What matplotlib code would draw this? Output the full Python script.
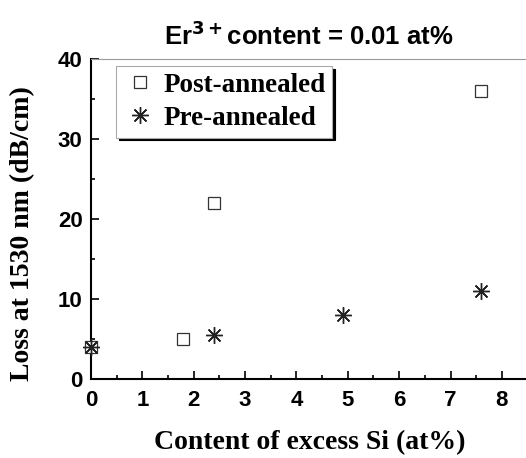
import matplotlib
matplotlib.use('Agg')
import matplotlib.pyplot as plt
from matplotlib.ticker import MultipleLocator

# data
post_x = [0.0, 1.8, 2.4, 7.6]
post_y = [4.0, 5.0, 22.0, 36.0]
pre_x = [0.0, 2.4, 4.9, 7.6]
pre_y = [4.0, 5.5, 8.0, 11.0]

fig = plt.figure(figsize=(5.26, 4.58), dpi=100)
ax = fig.add_axes([0.173, 0.1725, 0.83, 0.6987])

ax.plot(post_x, post_y, linestyle='none', marker='s', markersize=8,
        markerfacecolor='white', markeredgecolor='#333333', markeredgewidth=0.9,
        label='Post-annealed', clip_on=False, zorder=3)
ax.plot(pre_x, pre_y, linestyle='none', marker=(8, 2, 0), markersize=12,
        color='#222222', markeredgewidth=1.0, label='Pre-annealed',
        clip_on=False, zorder=3)

ax.set_xlim(0, 8.5)
ax.set_ylim(0, 40)
ax.xaxis.set_major_locator(MultipleLocator(1))
ax.xaxis.set_minor_locator(MultipleLocator(0.5))
ax.yaxis.set_major_locator(MultipleLocator(10))
ax.yaxis.set_minor_locator(MultipleLocator(5))
ax.tick_params(which='both', direction='in', top=False, right=False, width=1.2)
ax.tick_params(which='major', length=6, labelsize=16)
ax.tick_params(axis='x', which='major', pad=8)
ax.tick_params(axis='y', which='major', pad=6)
ax.tick_params(which='minor', length=3)
for lab in ax.get_xticklabels() + ax.get_yticklabels():
    lab.set_fontweight('bold')
    lab.set_family('Liberation Sans')

ax.spines['left'].set_linewidth(1.5)
ax.spines['bottom'].set_linewidth(1.5)
ax.spines['top'].set_color('#999999')
ax.spines['top'].set_linewidth(0.8)
ax.spines['right'].set_visible(False)

serif = {'family': 'Liberation Serif', 'weight': 'bold', 'size': 20}
ax.set_xlabel('Content of excess Si (at%)', fontdict=serif, labelpad=14)
ax.set_ylabel('Loss at 1530 nm (dB/cm)', fontdict=serif)
ax.yaxis.set_label_coords(-0.128, 0.456)
ax.set_title('Er$^{\\mathbf{3+}}$content = 0.01 at%', family='Liberation Sans',
             fontweight='bold', fontsize=18.5, pad=10)

leg = ax.legend(loc='upper left', bbox_to_anchor=(0.057, 0.978), borderaxespad=0,
                fancybox=False, shadow={'color': 'black', 'alpha': 1},
                prop={'family': 'Liberation Serif', 'weight': 'bold', 'size': 19.5},
                handletextpad=0.25, borderpad=0.25, labelspacing=0.3, handlelength=1.25,
                framealpha=1)
leg.get_frame().set_edgecolor('#aaaaaa')
leg.get_frame().set_linewidth(0.8)

fig.savefig('out.png', dpi=100)
